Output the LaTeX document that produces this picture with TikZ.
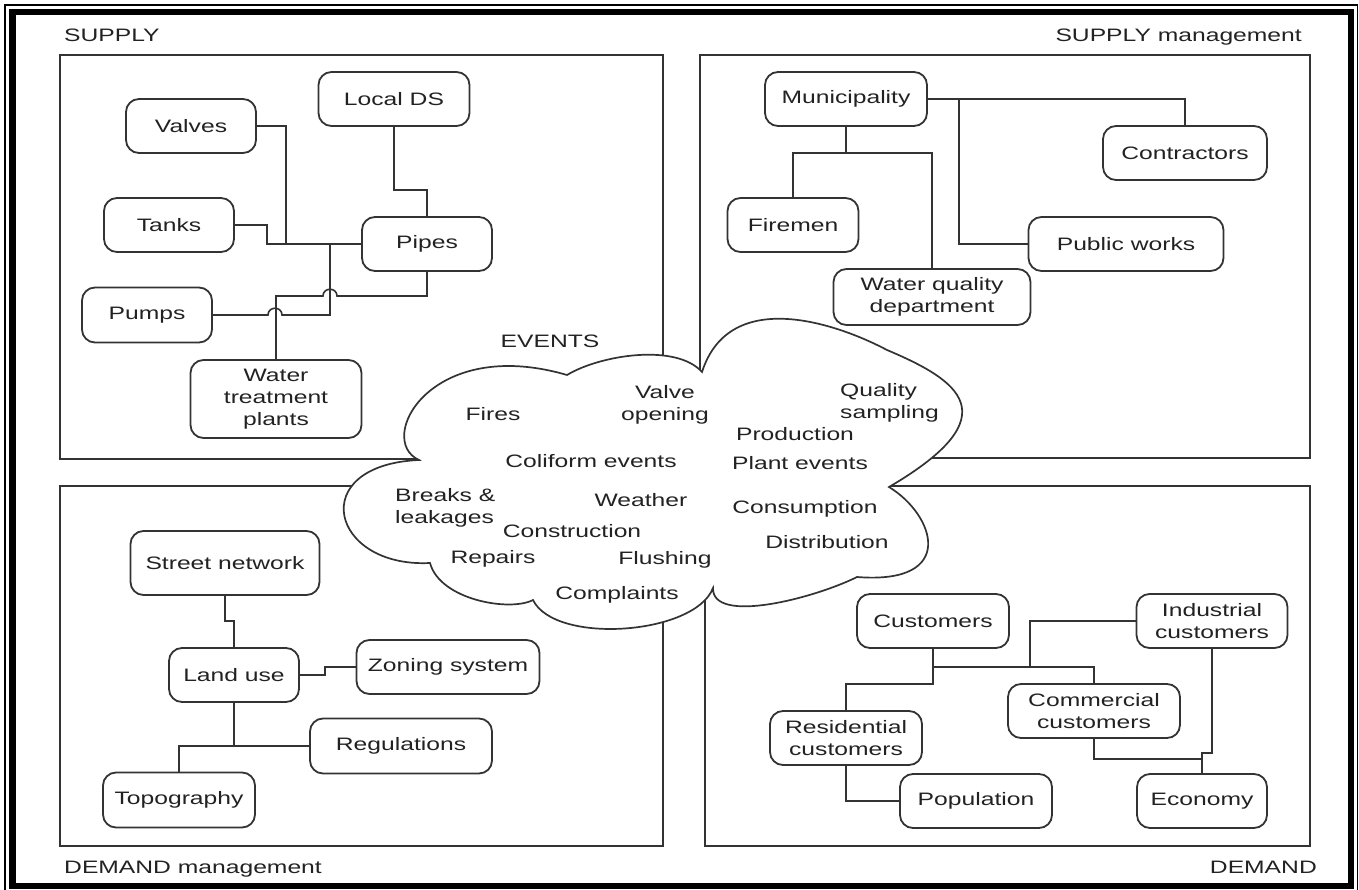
\documentclass[tikz,border=0pt]{standalone}
\usepackage{fontspec}
\setmainfont{Liberation Sans}[FakeStretch=1.37]
\definecolor{linec}{HTML}{333333}
\definecolor{txtc}{HTML}{222222}
\begin{document}
\begin{tikzpicture}[x=1pt,y=-1pt,
  every node/.style={font=\fontsize{18}{21.7}\selectfont, text=txtc},
  box/.style={draw=linec, line width=1.8pt, rounded corners=13pt, fill=white, align=center, inner sep=0pt},
  sz/.style 2 args={minimum width=#1pt, minimum height=#2pt},
  conn/.style={draw=linec, line width=1.6pt},
  quad/.style={draw=linec, line width=1.8pt},
  lbl/.style={inner sep=0pt},
  cloudshape/.style={draw=linec, line width=1.7pt, fill=white}]
\useasboundingbox (0,0) rectangle (1359,890);
% outer frame
\draw[black, line width=1.5pt] (5,5) rectangle (1357.5,897);
\draw[black, line width=6.5pt] (12.5,12) rectangle (1351,886);
% quadrant boxes
\draw[quad] (60,55) rectangle (663,459);
\draw[quad] (700,55) rectangle (1310,458);
\draw[quad] (60,486) rectangle (663,846);
\draw[quad] (705,486) rectangle (1310,846);
% labels
\node[lbl, anchor=base west] (lsupply) at (64,42) {SUPPLY};
\node[lbl, anchor=base east] (lsupplym) at (1302,42) {SUPPLY management};
\node[lbl, anchor=base west] (ldemandm) at (64,873) {DEMAND management};
\node[lbl, anchor=base east] (ldemand) at (1317,873) {DEMAND};
% cloud
\draw[cloudshape] (567,375)
 .. controls (600,355) and (676,343) .. (702,372)
 .. controls (730,285) and (840,325) .. (887,350)
 .. controls (958,380) and (1012,415) .. (889,487)
 .. controls (935,515) and (958,585) .. (857,577)
 .. controls (815,598) and (712,625) .. (713,588)
 .. controls (695,635) and (555,645) .. (533,600)
 .. controls (510,612) and (440,600) .. (430,563)
 .. controls (330,568) and (305,465) .. (419,460)
 .. controls (375,440) and (430,335) .. (567,375) -- cycle;
% SUPPLY nodes
\node[box, sz={151}{54}] (localds) at (394,99) {Local DS};
\node[box, sz={130}{54}] (valves) at (191,126) {Valves};
\node[box, sz={130}{54}] (tanks) at (169,225) {Tanks};
\node[box, sz={130}{54}] (pipes) at (427,244) {Pipes};
\node[box, sz={130}{55}] (pumps) at (147,315) {Pumps};
\node[box, sz={171}{78}] (wtp) at (276,399) {Water\\treatment\\plants};
% SUPPLY management nodes
\node[box, sz={162}{54}] (muni) at (846,99) {Municipality};
\node[box, sz={164}{54}] (contr) at (1185,153) {Contractors};
\node[box, sz={131}{54}] (firemen) at (793,225) {Firemen};
\node[box, sz={195}{54}] (pubw) at (1126,244) {Public works};
\node[box, sz={197}{56}] (wqd) at (932,297) {Water quality\\department};
% DEMAND management nodes
\node[box, sz={189}{64}] (street) at (225,563) {Street network};
\node[box, sz={130}{54}] (landuse) at (234,675) {Land use};
\node[box, sz={183}{54}] (zoning) at (448,667) {Zoning system};
\node[box, sz={182}{55}] (regs) at (401,746) {Regulations};
\node[box, sz={152}{55}] (topo) at (179,800) {Topography};
% DEMAND nodes
\node[box, sz={152}{54}] (cust) at (933,621) {Customers};
\node[box, sz={151}{54}] (indus) at (1212,621) {Industrial\\customers};
\node[box, sz={152}{54}] (resid) at (846,738) {Residential\\customers};
\node[box, sz={172}{54}] (comm) at (1094,711) {Commercial\\customers};
\node[box, sz={152}{54}] (popu) at (976,801) {Population};
\node[box, sz={130}{54}] (econ) at (1202,801) {Economy};
% connectors SUPPLY
\draw[conn] (valves.east) -| (286,244);
\draw[conn] (tanks.east) -- (267,225) |- (pipes.west);
\draw[conn] (localds.south) |- (427,190) -- (pipes.north);
\draw[conn] (pumps.east) -- (268,315) .. controls (268,306) and (282,306) .. (282,315) -- (330,315) -- (330,244);
\draw[conn] (wtp.north) |- (323,296) .. controls (323,287) and (337,287) .. (337,296) -| (pipes.south);
% connectors SUPPLY management
\draw[conn] (muni.east) -| (contr.north);
\draw[conn] (959,99) |- (pubw.west);
\draw[conn] (muni.south) -- (846,153);
\draw[conn] (firemen.north) |- (846,153) -| (wqd.north);
% connectors DEMAND management
\draw[conn] (street.south) |- (234,621) -- (landuse.north);
\draw[conn] (landuse.east) -| (325,667) -- (zoning.west);
\draw[conn] (landuse.south) |- (regs.west);
\draw[conn] (234,746) -| (topo.north);
% connectors DEMAND
\draw[conn] (cust.south) -- (933,684) -| (resid.north);
\draw[conn] (933,667) -| (comm.north);
\draw[conn] (indus.west) -| (1030,667);
\draw[conn] (indus.south) |- (1202,753) -- (econ.north);
\draw[conn] (comm.south) |- (1202,759);
\draw[conn] (resid.south) |- (popu.west);
% cloud texts
\node[lbl, anchor=base] (events) at (550,348) {EVENTS};
\node[lbl, anchor=base] (fires) at (493,420) {Fires};
\node[lbl, align=center] (valveop) at (665,405) {Valve\\opening};
\node[lbl, align=left, anchor=west] (quality) at (840,403) {Quality\\sampling};
\node[lbl, anchor=base] (prod) at (795,440) {Production};
\node[lbl, anchor=base] (plant) at (800,469) {Plant events};
\node[lbl, anchor=base] (colif) at (591,467) {Coliform events};
\node[lbl, align=left, anchor=west] (breaks) at (395,508) {Breaks \&\\leakages};
\node[lbl, anchor=base] (weather) at (641,506) {Weather};
\node[lbl, anchor=base] (constr) at (572,537) {Construction};
\node[lbl, anchor=base] (consum) at (805,513) {Consumption};
\node[lbl, anchor=base] (distr) at (827,548) {Distribution};
\node[lbl, anchor=base] (repairs) at (493,563) {Repairs};
\node[lbl, anchor=base] (flush) at (665,564) {Flushing};
\node[lbl, anchor=base] (compl) at (617,599) {Complaints};
\end{tikzpicture}
\end{document}
